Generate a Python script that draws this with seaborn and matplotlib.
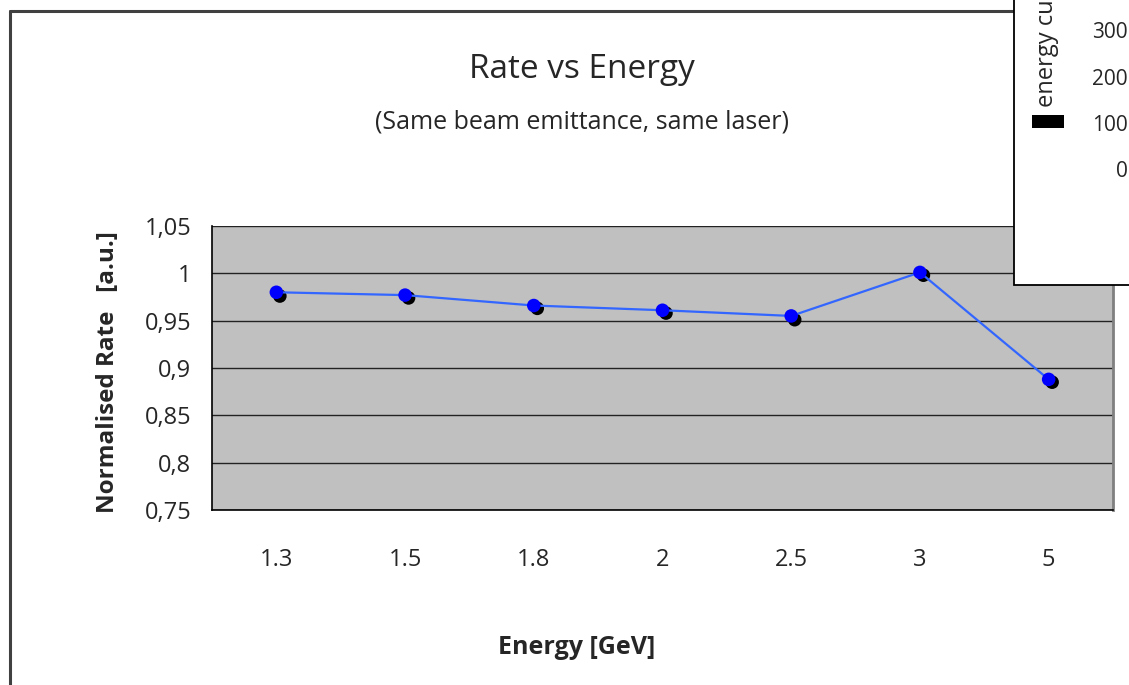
import matplotlib
matplotlib.use("Agg")
import matplotlib.pyplot as plt
import matplotlib.transforms as mtransforms
from matplotlib.lines import Line2D
from matplotlib.patches import Rectangle
import seaborn as sns
import pandas as pd

# ---- data ----
energies = ["1.3", "1.5", "1.8", "2", "2.5", "3", "5"]
rate = [0.980, 0.977, 0.966, 0.961, 0.955, 1.001, 0.888]
rate_shadow = [0.976, 0.974, 0.963, 0.958, 0.951, 0.998, 0.885]
y_ticks = [0.75, 0.80, 0.85, 0.90, 0.95, 1.00, 1.05]
y_tick_labels = ["0,75", "0,8", "0,85", "0,9", "0,95", "1", "1,05"]
overlay_ticks = ["300", "200", "100", "0"]

title = "Rate vs Energy"
subtitle = "(Same beam emittance, same laser)"
xlabel = "Energy [GeV]"
ylabel = "Normalised Rate   [a.u.]"
overlay_label = "energy cu"

sns.set_theme(style="white")
plt.rcParams["font.family"] = ["Open Sans", "DejaVu Sans"]

W, H = 1129, 685
fig = plt.figure(figsize=(W / 100, H / 100), dpi=100)
fig.patch.set_facecolor("white")

def fx(px):
    return px / W

def fy(py):
    return 1 - py / H

# outer chart frame
fig.add_artist(Line2D([fx(10), fx(10)], [fy(11), fy(700)], color="#404040", lw=2.2))
fig.add_artist(Line2D([fx(10), fx(1014)], [fy(11), fy(11)], color="#404040", lw=2.2))

ax = fig.add_axes([fx(212), fy(510), fx(1113) - fx(212), fy(226) - fy(510)])
ax.set_facecolor("#C0C0C0")

df = pd.DataFrame({"x": list(range(len(energies))), "rate": rate, "shadow": rate_shadow})

# shadow markers (slightly right of the main markers)
sns.scatterplot(data=df, x="x", y="shadow", ax=ax, color="black", s=95,
                edgecolor="none", zorder=3, legend=False)
shadow_coll = ax.collections[-1]
shadow_coll.set_offset_transform(mtransforms.offset_copy(ax.transData, fig=fig, x=3.5, y=0, units="dots"))

sns.lineplot(data=df, x="x", y="rate", ax=ax, color="#3366FF", lw=1.6, zorder=4)
sns.scatterplot(data=df, x="x", y="rate", ax=ax, color="#0000FF", s=95,
                edgecolor="none", zorder=5, legend=False)

ax.set_xlim(-0.5, len(energies) - 0.5)
ax.set_ylim(0.75, 1.05)
ax.set_yticks(y_ticks)
ax.set_yticklabels(y_tick_labels, fontsize=17)
for yv in y_ticks:
    ax.axhline(yv, color="#222222", lw=1.0, zorder=1)

ax.set_xticks(range(len(energies)))
ax.set_xticklabels(energies, fontsize=17)
ax.set_xticks([i - 0.5 for i in range(len(energies) + 1)], minor=True)
ax.tick_params(axis="x", which="major", length=0, pad=27)
ax.tick_params(axis="x", which="minor", length=7, width=1, color="black", direction="out")
ax.tick_params(axis="y", which="major", length=7, width=1, color="black", direction="out", pad=8)
ax.set_xlabel("")
ax.set_ylabel("")

for side in ["left", "bottom"]:
    ax.spines[side].set_color("black")
    ax.spines[side].set_linewidth(1.2)
ax.spines["right"].set_color("#808080")
ax.spines["right"].set_linewidth(2)
ax.spines["top"].set_visible(False)

fig.text(fx(582), fy(70), title, ha="center", va="center", fontsize=24)
fig.text(fx(582), fy(122), subtitle, ha="center", va="center", fontsize=18)
fig.text(fx(577), fy(648), xlabel, ha="center", va="center", fontsize=18, fontweight="bold")
fig.text(fx(108), fy(372), ylabel, ha="center", va="center", fontsize=17.5, fontweight="bold", rotation=90)

# overlapping box of another chart (top right)
fig.add_artist(Rectangle((fx(1014), fy(285)), 0.3, 0.6, transform=fig.transFigure,
                         facecolor="white", edgecolor="black", lw=1.3, zorder=10))
fig.text(fx(1047), fy(107), overlay_label, ha="center", va="bottom", rotation=90,
         fontsize=17, zorder=11)
fig.add_artist(Rectangle((fx(1032), fy(128)), fx(1064) - fx(1032), fy(115) - fy(128),
                         transform=fig.transFigure, facecolor="black", edgecolor="none", zorder=11))
for i, lab in enumerate(overlay_ticks):
    fig.text(fx(1128), fy(33 + i * 46.3), lab, ha="right", va="center", fontsize=15, zorder=11)

fig.savefig("out.png", dpi=100)
